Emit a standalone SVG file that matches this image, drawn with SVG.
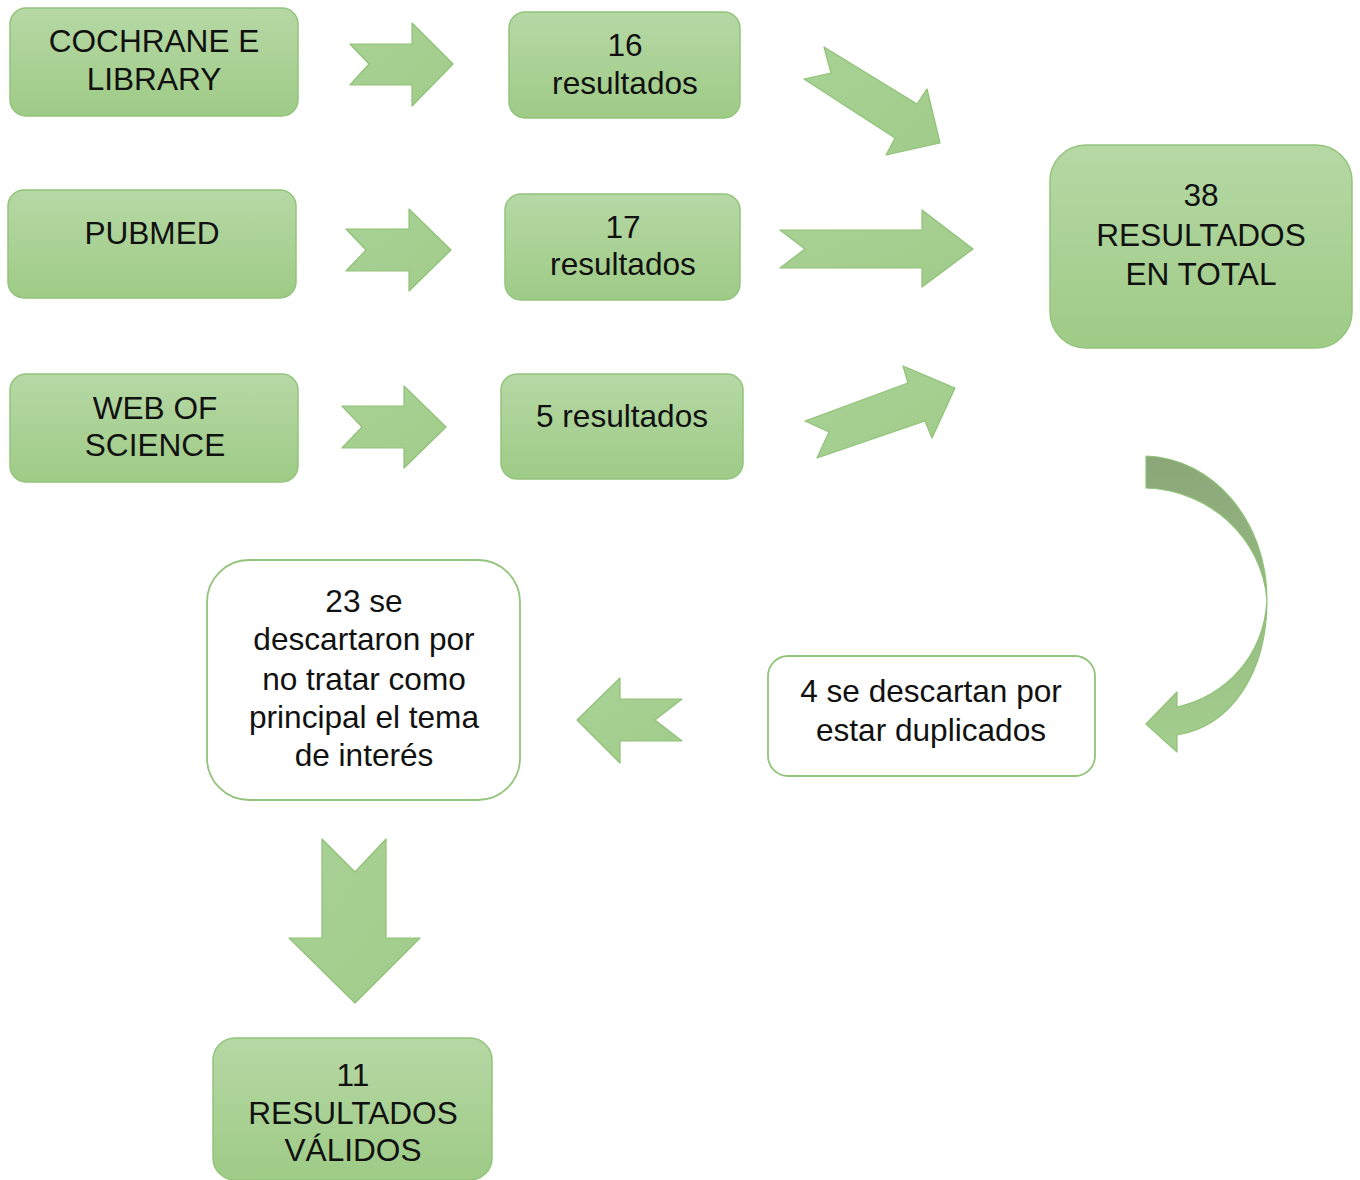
<svg xmlns="http://www.w3.org/2000/svg" width="1360" height="1180" viewBox="0 0 1360 1180">
<defs>
<linearGradient id="gb" x1="0" y1="0" x2="0" y2="1">
<stop offset="0" stop-color="#b6d8a5"/>
<stop offset="1" stop-color="#9ecb86"/>
</linearGradient>
<linearGradient id="ga" x1="0" y1="0" x2="1" y2="1">
<stop offset="0" stop-color="#a9d296"/>
<stop offset="1" stop-color="#a0cc8a"/>
</linearGradient>
<linearGradient id="gc" gradientUnits="userSpaceOnUse" x1="0" y1="456" x2="0" y2="752">
<stop offset="0" stop-color="#8aa678"/>
<stop offset="0.5" stop-color="#96bb82"/>
<stop offset="1" stop-color="#a4cf8e"/>
</linearGradient>
</defs>
<style>
.box{fill:url(#gb);stroke:#93c47b;stroke-width:1.5}
.wbox{fill:#ffffff;stroke:#93c47b;stroke-width:1.8}
.arr{fill:url(#ga);stroke:#8fc277;stroke-width:1.2;stroke-linejoin:round}
text{font-family:"Liberation Sans",Arial,sans-serif;font-size:31.6px;fill:#111;text-anchor:middle}
</style>
<rect width="1360" height="1180" fill="#ffffff"/>
<g id="connectors">
<polygon class="arr" points="350,44 412,44 412,23 453,64 412,106 412,85 350,85 369,64"/>
<polygon class="arr" points="346,229 409,229 409,209 451,250 409,291 409,271 346,271 366,250"/>
<polygon class="arr" points="342,406 404,406 404,386 446,427 404,468 404,448 342,448 362,427"/>
<polygon class="arr" points="824,47 917,104 927,89 940,143 886,155 895,138 804,79 831,73"/>
<polygon class="arr" points="780,230 922,230 922,210 973,249 922,287 922,268 780,268 805,249"/>
<polygon class="arr" points="805,421 908,383 903,366 955,388 932,438 925,421 817,458 829,432"/>
<path fill="url(#gc)" stroke="#8fc277" stroke-width="1.2" stroke-linejoin="round" d="M1146,456 C1212,458 1267,520 1267,600 C1267,672 1232,726 1177,735 L1177,752 L1146,724 L1177,692 L1177,707 C1226,696 1264,656 1267,600 C1262,538 1210,490 1146,488 Z"/>
<polygon class="arr" points="682,699 620,699 620,678 577,720 620,763 620,741 682,741 655,720"/>
<polygon class="arr" points="322,839 355,872 386,839 386,938 420,938 355,1003 289,938 322,938"/>
</g>
<g id="cochrane">
<rect class="box" x="10" y="8" width="288" height="108" rx="16"/>
<text x="154" y="52">COCHRANE E</text>
<text x="154" y="90">LIBRARY</text>
</g>
<g id="pubmed">
<rect class="box" x="8" y="190" width="288" height="108" rx="16"/>
<text x="152" y="244">PUBMED</text>
</g>
<g id="wos">
<rect class="box" x="10" y="374" width="288" height="108" rx="16"/>
<text x="155" y="419">WEB OF</text>
<text x="155" y="456">SCIENCE</text>
</g>
<g id="r16">
<rect class="box" x="509" y="12" width="231" height="106" rx="16"/>
<text x="625" y="56">16</text>
<text x="625" y="94">resultados</text>
</g>
<g id="r17">
<rect class="box" x="505" y="194" width="235" height="106" rx="16"/>
<text x="623" y="238">17</text>
<text x="623" y="275">resultados</text>
</g>
<g id="r5">
<rect class="box" x="501" y="374" width="242" height="105" rx="16"/>
<text x="622" y="427">5 resultados</text>
</g>
<g id="total">
<rect class="box" x="1050" y="145" width="302" height="203" rx="36"/>
<text x="1201" y="206">38</text>
<text x="1201" y="246">RESULTADOS</text>
<text x="1201" y="285">EN TOTAL</text>
</g>
<g id="dup">
<rect class="wbox" x="768" y="656" width="327" height="120" rx="20"/>
<text x="931" y="702">4 se descartan por</text>
<text x="931" y="741">estar duplicados</text>
</g>
<g id="tema">
<rect class="wbox" x="207" y="560" width="313" height="240" rx="42"/>
<text x="364" y="612">23 se</text>
<text x="364" y="650">descartaron por</text>
<text x="364" y="690">no tratar como</text>
<text x="364" y="728">principal el tema</text>
<text x="364" y="766">de interés</text>
</g>
<g id="validos">
<rect class="box" x="213" y="1038" width="279" height="142" rx="22"/>
<text x="353" y="1086">11</text>
<text x="353" y="1124">RESULTADOS</text>
<text x="353" y="1161">VÁLIDOS</text>
</g>
</svg>
